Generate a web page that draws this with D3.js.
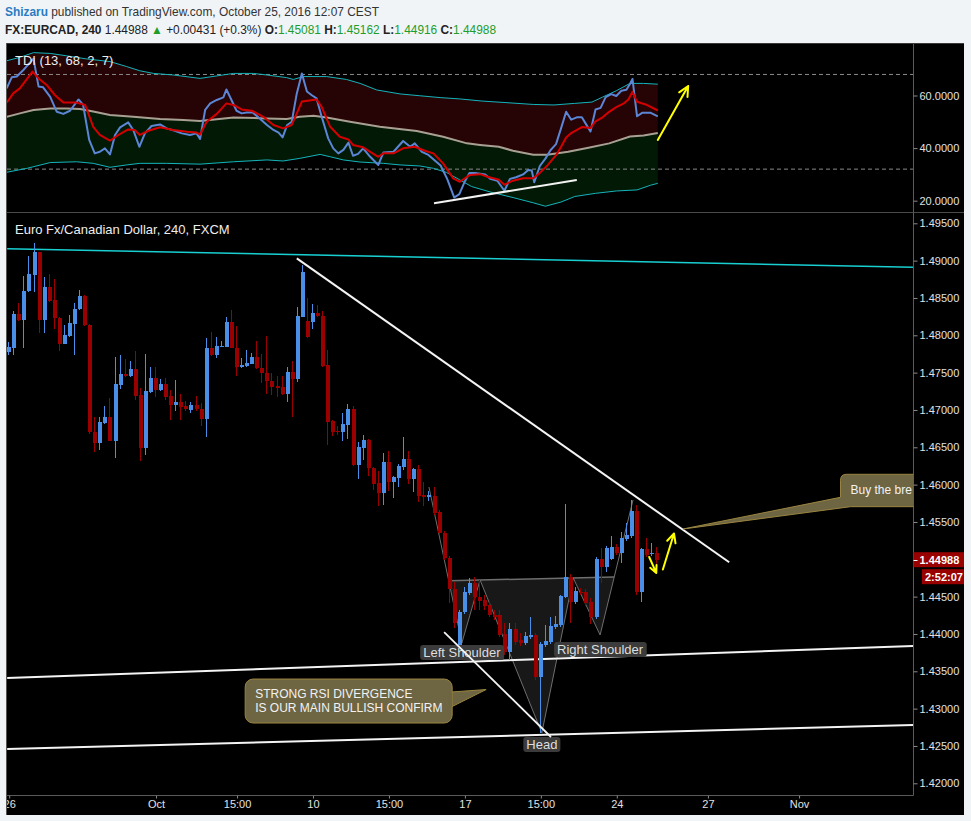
<!DOCTYPE html>
<html><head><meta charset="utf-8">
<script src="https://cdn.jsdelivr.net/npm/d3@7"></script>
<style>
html,body{margin:0;padding:0;background:#f1f4f7;}
svg{display:block;font-family:"Liberation Sans",Arial,sans-serif;}
</style></head><body>
<svg id="c" width="971" height="821"></svg>
<script>
// ---------------- DATA ----------------
const candleOpen = [1.4777,1.4783,1.4829,1.4821,1.4859,1.4881,1.4911,1.4821,1.4865,1.4847,1.4823,1.4789,1.4799,1.4815,1.4835,1.4853,1.4814,1.4670,1.4656,1.4683,1.4690,1.4659,1.4734,1.4748,1.4745,1.4755,1.4720,1.4649,1.4724,1.4743,1.4727,1.4735,1.4719,1.4707,1.4711,1.4705,1.4700,1.4707,1.4701,1.4688,1.4783,1.4774,1.4785,1.4785,1.4818,1.4783,1.4757,1.4759,1.4762,1.4771,1.4756,1.4749,1.4739,1.4732,1.4731,1.4722,1.4751,1.4742,1.4825,1.4819,1.4818,1.4830,1.4826,1.4760,1.4685,1.4672,1.4670,1.4680,1.4701,1.4626,1.4649,1.4660,1.4622,1.4602,1.4589,1.4630,1.4604,1.4609,1.4624,1.4634,1.4608,1.4621,1.4586,1.4583,1.4585,1.4563,1.4535,1.4502,1.4460,1.4385,1.4429,1.4455,1.4468,1.4450,1.4445,1.4439,1.4425,1.4425,1.4400,1.4376,1.4407,1.4392,1.4388,1.4396,1.4399,1.4342,1.4385,1.4389,1.4409,1.4412,1.4450,1.4476,1.4443,1.4456,1.4456,1.4443,1.4423,1.4500,1.4490,1.4500,1.4517,1.4509,1.4527,1.4531,1.4565,1.4456,1.4514,1.4507,1.45081];
const candleHigh = [1.4791,1.4832,1.4843,1.4879,1.4906,1.4924,1.4912,1.4878,1.4882,1.4875,1.4824,1.4814,1.4827,1.4843,1.4861,1.4854,1.4815,1.4690,1.4690,1.4705,1.4716,1.4771,1.4773,1.4768,1.4765,1.4779,1.4729,1.4775,1.4757,1.4757,1.4742,1.4743,1.4727,1.4740,1.4722,1.4712,1.4710,1.4719,1.4709,1.4796,1.4804,1.4798,1.4792,1.4825,1.4834,1.4812,1.4769,1.4780,1.4776,1.4792,1.4775,1.4799,1.4749,1.4745,1.4745,1.4758,1.4765,1.4838,1.4894,1.4850,1.4842,1.4841,1.4832,1.4780,1.4687,1.4678,1.4696,1.4708,1.4705,1.4657,1.4666,1.4661,1.4624,1.4618,1.4642,1.4645,1.4612,1.4628,1.4664,1.4645,1.4622,1.4626,1.4604,1.4591,1.4597,1.4566,1.4538,1.4504,1.4470,1.4432,1.4463,1.4475,1.4476,1.4472,1.4452,1.4443,1.4432,1.4432,1.4415,1.4415,1.4415,1.4401,1.4403,1.4423,1.4401,1.4389,1.4412,1.4423,1.4424,1.4452,1.4574,1.4480,1.4463,1.4462,1.4460,1.4448,1.4503,1.4515,1.4518,1.4531,1.4520,1.4537,1.4549,1.4579,1.4573,1.4515,1.4529,1.4522,1.45162];
const candleLow = [1.4774,1.4773,1.4819,1.4783,1.4858,1.4858,1.4803,1.4803,1.4845,1.4808,1.4779,1.4788,1.4798,1.4773,1.4834,1.4812,1.4668,1.4644,1.4646,1.4681,1.4658,1.4636,1.4728,1.4744,1.4744,1.4713,1.4631,1.4640,1.4723,1.4718,1.4725,1.4713,1.4686,1.4698,1.4686,1.4698,1.4696,1.4698,1.4679,1.4664,1.4772,1.4770,1.4784,1.4784,1.4783,1.4745,1.4756,1.4758,1.4761,1.4755,1.4736,1.4722,1.4720,1.4718,1.4720,1.4711,1.4691,1.4737,1.4824,1.4796,1.4809,1.4824,1.4758,1.4653,1.4665,1.4666,1.4658,1.4661,1.4625,1.4608,1.4633,1.4612,1.4593,1.4571,1.4573,1.4591,1.4582,1.4597,1.4620,1.4601,1.4590,1.4577,1.4571,1.4578,1.4559,1.4533,1.4499,1.4441,1.4408,1.4383,1.4427,1.4452,1.4432,1.4432,1.4432,1.4423,1.4419,1.4396,1.4372,1.4365,1.4385,1.4384,1.4385,1.4393,1.4338,1.4267,1.4383,1.4387,1.4407,1.4409,1.4448,1.4415,1.4440,1.4452,1.4437,1.4413,1.4420,1.4468,1.4483,1.4499,1.4506,1.4495,1.4524,1.4529,1.4452,1.4443,1.4503,1.4505,1.44916];
const candleClose = [1.4785,1.4829,1.4821,1.4859,1.4882,1.4911,1.4821,1.4865,1.4846,1.4823,1.4789,1.4800,1.4817,1.4835,1.4853,1.4814,1.4670,1.4656,1.4684,1.4690,1.4659,1.4735,1.4748,1.4745,1.4755,1.4719,1.4649,1.4726,1.4743,1.4727,1.4735,1.4718,1.4707,1.4711,1.4704,1.4701,1.4707,1.4701,1.4688,1.4783,1.4774,1.4786,1.4786,1.4818,1.4783,1.4757,1.4760,1.4763,1.4771,1.4756,1.4749,1.4739,1.4731,1.4730,1.4721,1.4751,1.4742,1.4826,1.4885,1.4798,1.4830,1.4826,1.4759,1.4684,1.4671,1.4670,1.4681,1.4701,1.4626,1.4650,1.4660,1.4622,1.4601,1.4589,1.4630,1.4604,1.4610,1.4625,1.4634,1.4608,1.4621,1.4585,1.4583,1.4586,1.4562,1.4535,1.4502,1.4460,1.4415,1.4429,1.4456,1.4468,1.4450,1.4444,1.4437,1.4425,1.4423,1.4399,1.4376,1.4407,1.4389,1.4388,1.4397,1.4399,1.4342,1.4387,1.4391,1.4411,1.4413,1.4451,1.4476,1.4443,1.4458,1.4455,1.4441,1.4423,1.4500,1.4490,1.4515,1.4517,1.4509,1.4529,1.4533,1.4565,1.4456,1.4514,1.4506,1.4509,1.44988];

const timeTickIndex = [0,29,45,60,75,90,105,120,138,156];
const timeTickLabels = ["26","Oct","15:00","10","15:00","17","15:00","24","27","Nov"];
const priceTicks = [1.420,1.425,1.430,1.435,1.440,1.445,1.450,1.455,1.460,1.465,1.470,1.475,1.480,1.485,1.490,1.495];
const tdiTicks = [20,40,60];
const tdiLevels = [32,68];

// TDI series: [candle index, value]
const tdiRsi = [[-0.5,62.7],[0.5,66.9],[1.5,67.2],[2.8,69.7],[4.8,74],[5.8,63.4],[6.7,63.1],[8.1,59.5],[9.4,53.8],[10.7,53.0],[12.0,54.2],[13.7,58.5],[14.6,56.4],[15.8,43.1],[16.9,38.0],[17.9,38.6],[18.9,39.9],[19.9,37.6],[20.9,45.0],[21.9,47.9],[23.5,49.8],[24.5,46.9],[25.7,40.5],[26.8,45.6],[28.1,48.4],[29.8,49.0],[31.1,47.5],[32.7,46.6],[34.1,45.6],[35.7,45.0],[37.0,45.6],[37.7,43.5],[38.7,54.5],[39.7,57.0],[41.0,58.3],[42.3,59.3],[42.9,62.3],[43.9,58.3],[44.9,54.2],[45.9,53.2],[46.9,53.5],[48.1,53.5],[49.2,51.7],[50.9,48.8],[52.2,46.9],[53.2,45.9],[54.0,44.1],[54.9,48.8],[55.8,50.0],[56.8,60.8],[57.8,68.4],[58.8,61.5],[59.7,60.2],[60.7,58.9],[61.7,52.0],[63.0,43.7],[64.0,39.9],[65.0,38.0],[66.0,39.3],[67.0,42.1],[67.9,37.1],[68.9,37.8],[69.9,39.9],[71.3,36.7],[72.9,33.6],[73.9,38.3],[75.9,38.6],[77.8,42.7],[79.2,40.5],[80.1,41.8],[81.5,38.6],[82.8,37.4],[85.2,33.4],[86.5,28.3],[87.9,21.2],[88.9,22.5],[89.9,27.0],[90.9,30.5],[92.0,30.5],[94.0,30.0],[95.0,28.3],[96.4,27.6],[97.8,23.8],[98.9,28.3],[100.1,28.9],[101.5,30.0],[102.5,31.7],[103.2,31.5],[103.7,27.0],[104.8,33.2],[105.9,36.0],[106.9,39.2],[108.0,41.5],[109.0,47.6],[110.0,53.8],[111.0,50.8],[112.1,51.7],[113.1,51.7],[113.8,49.5],[114.8,46.3],[115.8,54.7],[116.8,55.3],[117.8,59.4],[118.9,60.5],[119.9,59.8],[120.9,61.8],[121.9,62.2],[122.6,64.4],[123.1,66.3],[124.0,52.1],[125.0,53.4],[126.7,53.4],[128.1,52.1]];
const tdiSignal = [[-0.5,57.3],[0.8,60.8],[2.1,62.7],[4.6,69.1],[5.8,66.5],[7.4,64.0],[9.0,60.2],[10.7,57.3],[13.3,57.3],[15.0,56.4],[16.6,48.1],[17.9,45.0],[19.9,42.8],[21.6,45.0],[23.5,47.1],[24.8,46.9],[25.8,45.0],[27.5,46.6],[29.8,47.9],[32.4,46.9],[35.1,46.2],[37.0,45.9],[37.7,45.2],[39.0,50.0],[41.0,53.0],[42.9,57.0],[44.3,56.4],[45.9,54.7],[47.9,54.2],[50.2,51.9],[52.2,48.8],[54.1,47.5],[55.8,48.8],[56.8,53.2],[57.8,57.7],[60.7,58.5],[61.7,55.7],[63.4,48.1],[65.3,44.3],[67.0,43.3],[67.9,41.2],[69.9,40.3],[72.9,36.7],[73.9,38.0],[75.9,38.0],[77.8,39.9],[80.1,40.5],[82.1,39.0],[83.8,38.0],[85.7,34.2],[87.7,28.5],[89.0,27.2],[91.0,29.8],[93.0,30.1],[94.3,29.2],[96.7,28.0],[97.8,26.1],[99.5,27.6],[101.5,28.5],[103.5,28.5],[104.6,30.2],[106.3,33.4],[108.0,37.3],[109.0,40.5],[110.0,44.0],[111.0,45.7],[113.1,48.0],[114.8,47.6],[115.8,50.2],[117.2,51.7],[118.5,53.8],[119.9,55.6],[121.3,56.9],[122.3,58.5],[123.1,61.4],[124.0,57.6],[125.7,56.6],[128.1,54.3]];
const tdiMid = [[-0.5,51.9],[2.1,53.2],[4.8,54.5],[8.1,55.1],[11.3,55.1],[14.0,54.9],[16.6,53.9],[19.9,52.6],[24.5,51.9],[29.8,51.1],[34.4,50.7],[37.7,50.3],[44.3,51.6],[50.9,51.3],[54.8,51.1],[57.4,51.9],[60.1,52.3],[62.7,51.6],[67.3,50.0],[73.2,48.1],[80.5,46.5],[85.7,44.3],[90.4,41.8],[93.0,41.2],[96.7,40.5],[99.5,39.0],[103.5,37.5],[106.3,37.5],[110.4,38.6],[114.4,40.1],[118.5,41.8],[122.6,44.4],[125.3,44.8],[128.1,45.7]];
const tdiUpper = [[-0.5,73.2],[2.1,74.5],[4.8,76.3],[8.1,76.0],[11.3,75.1],[15.3,73.9],[19.9,72.9],[23.2,71.0],[25.8,69.4],[28.5,68.4],[32.4,67.8],[37.7,66.5],[44.3,68.4],[48.2,68.4],[50.9,67.8],[54.8,66.8],[56.1,66.1],[58.1,67.2],[62.7,67.2],[66.6,66.1],[69.3,64.6],[72.6,62.1],[77.2,60.6],[81.1,59.9],[85.1,59.2],[89.0,58.7],[93.3,57.9],[98.1,57.3],[103.5,56.6],[107.6,56.4],[111.7,57.0],[115.1,57.5],[117.2,59.4],[119.9,61.8],[122.6,64.6],[125.3,64.6],[128.1,64.3]];
const tdiLower = [[-0.5,30.8],[3.5,32.3],[8.1,34.5],[13.3,34.8],[16.6,34.2],[19.9,32.7],[23.2,33.6],[25.8,34.2],[31.1,34.2],[37.7,33.9],[44.3,34.8],[50.9,35.5],[54.1,35.1],[57.4,36.1],[61.4,37.6],[63.4,36.7],[66.0,35.5],[69.3,34.7],[73.9,34.2],[77.2,33.6],[81.1,33.2],[83.8,32.3],[86.4,30.7],[89.0,27.9],[91.3,25.4],[95.4,23.1],[99.5,21.2],[103.5,19.2],[105.9,17.9],[109.0,19.5],[111.7,21.6],[115.8,22.8],[119.9,23.7],[124.0,24.1],[126.7,25.9],[128.1,26.6]];

// Drawings (endpoints in [candle index, price])
const resistanceLine = [[-0.4,1.49160],[178.5,1.48911]];
const downTrendLine = [[56.8,1.49031],[142.2,1.44960]];
const upperSupport = [[-0.4,1.43410],[178.5,1.43839]];
const lowerSupport = [[-0.4,1.42459],[178.5,1.42781]];
const shoulderHeadLine = [[85.9,1.44026],[107.0,1.42620]];
const hsPoints = [[82.9,1.45968],[89.4,1.43879],[93.0,1.44723],[105.2,1.42674],[111.4,1.44750],[116.7,1.43986],[123.2,1.45794]];
const arrowDown = [[126.4,1.45031],[127.8,1.44817]];
const arrowUp = [[129.1,1.44863],[131.3,1.45346]];
const tdiArrow = [[128.1,43.1],[134.1,63.6]];
const tdiDivergence = [[83.9,19.0],[112.1,27.9]];
const noteRsiTip = [94.2,1.43256];
const noteBuyTip = [133.1,1.45406];
const lastPrice = 1.44988;

// ---------------- LAYOUT ----------------
const svg = d3.select("#c");
const plotL = 7, plotR = 913.5, tdiT = 44, tdiB = 212, mainT = 213, mainB = 795.5;
const x = d3.scaleLinear().domain([0,128]).range([9.2,657.3]);
const y = d3.scaleLinear().domain([1.42,1.495]).range([783.3,223.3]);
const yT = d3.scaleLinear().domain([20,60]).range([200.7,95.5]);

const defs = svg.append("defs");
defs.append("clipPath").attr("id","clipT").append("rect").attr("x",plotL).attr("y",tdiT).attr("width",plotR-plotL).attr("height",tdiB-tdiT);
defs.append("clipPath").attr("id","clipM").append("rect").attr("x",plotL).attr("y",mainT).attr("width",plotR-plotL).attr("height",mainB-mainT);
defs.append("clipPath").attr("id","clipX").append("rect").attr("x",plotL).attr("y",mainB).attr("width",plotR-plotL).attr("height",20);

// background
svg.append("rect").attr("width",971).attr("height",821).attr("fill","#f1f4f7");
svg.append("rect").attr("x",6).attr("y",43).attr("width",958).attr("height",772).attr("fill","#000");
svg.append("line").attr("x1",6).attr("x2",964).attr("y1",43.5).attr("y2",43.5).attr("stroke","#3a3a3a");
svg.append("line").attr("x1",6.5).attr("x2",6.5).attr("y1",43).attr("y2",815).attr("stroke","#555");

// header
const h1 = svg.append("text").attr("x",5).attr("y",16).attr("font-size",11.9).attr("fill","#333");
h1.append("tspan").attr("fill","#2a7cc2").attr("font-weight","bold").text("Shizaru");
h1.append("tspan").text(" published on TradingView.com, October 25, 2016 12:07 CEST");
const h2 = svg.append("text").attr("x",5).attr("y",34).attr("font-size",11.9).attr("fill","#222");
const green = "#1f9d2b";
h2.append("tspan").attr("font-weight","bold").text("FX:EURCAD, 240");
h2.append("tspan").text(" 1.44988 ");
h2.append("tspan").attr("fill",green).text("\u25B2");
h2.append("tspan").text(" +0.00431 (+0.3%) ");
[["O:","1.45081"],["H:","1.45162"],["L:","1.44916"],["C:","1.44988"]].forEach((p,k)=>{
  h2.append("tspan").attr("font-weight","bold").text((k?" ":"")+p[0]);
  h2.append("tspan").attr("fill",green).text(p[1]);
});

// ---------------- TDI PANEL ----------------
const gT = svg.append("g").attr("clip-path","url(#clipT)");
const lineT = d3.line().x(d=>x(d[0])).y(d=>yT(d[1]));
gT.append("path").attr("d", lineT([...tdiUpper, ...tdiMid.slice().reverse()])+"Z").attr("fill","#260304");
gT.append("path").attr("d", lineT([...tdiMid, ...tdiLower.slice().reverse()])+"Z").attr("fill","#021a05");
tdiLevels.forEach(v=>{
  gT.append("line").attr("x1",plotL).attr("x2",plotR).attr("y1",yT(v)).attr("y2",yT(v))
    .attr("stroke","#8a8a8a").attr("stroke-dasharray","4,3").attr("stroke-width",1);
});
gT.append("path").attr("d",lineT(tdiUpper)).attr("fill","none").attr("stroke","#14b4bc").attr("stroke-width",1);
gT.append("path").attr("d",lineT(tdiLower)).attr("fill","none").attr("stroke","#14b4bc").attr("stroke-width",1);
gT.append("path").attr("d",lineT(tdiMid)).attr("fill","none").attr("stroke","#a8a092").attr("stroke-width",2);
gT.append("path").attr("d",lineT(tdiRsi)).attr("fill","none").attr("stroke","#5b86d6").attr("stroke-width",2).attr("stroke-linejoin","round");
gT.append("path").attr("d",lineT(tdiSignal)).attr("fill","none").attr("stroke","#d40000").attr("stroke-width",2).attr("stroke-linejoin","round");
gT.append("path").attr("d",lineT(tdiDivergence)).attr("stroke","#f2f2f2").attr("stroke-width",2);

function arrow(g, pts, sx, sy, color, w, head){
  const x1=sx(pts[0][0]), y1=sy(pts[0][1]), x2=sx(pts[1][0]), y2=sy(pts[1][1]);
  const a = Math.atan2(y2-y1,x2-x1), L=head;
  const p1=[x2-L*Math.cos(a-0.45), y2-L*Math.sin(a-0.45)], p2=[x2-L*Math.cos(a+0.45), y2-L*Math.sin(a+0.45)];
  g.append("path").attr("d",`M${x1},${y1}L${x2},${y2}M${p1}L${x2},${y2}L${p2}`)
   .attr("fill","none").attr("stroke",color).attr("stroke-width",w).attr("stroke-linecap","round").attr("stroke-linejoin","round");
}
arrow(gT, tdiArrow, x, yT, "#ffff00", 2, 11);
gT.append("text").attr("x",15).attr("y",65).attr("font-size",13).attr("fill","#eeeeee").text("TDI (13, 68, 2, 7)");

// separators
svg.append("line").attr("x1",7).attr("x2",964).attr("y1",212.5).attr("y2",212.5).attr("stroke","#4a4a4a");
svg.append("line").attr("x1",913.5).attr("x2",913.5).attr("y1",44).attr("y2",795.5).attr("stroke","#5a5a5a");
svg.append("line").attr("x1",7).attr("x2",913.5).attr("y1",795.5).attr("y2",795.5).attr("stroke","#5a5a5a");

// ---------------- MAIN PANEL ----------------
const gM = svg.append("g").attr("clip-path","url(#clipM)");
const lineM = d3.line().x(d=>x(d[0])).y(d=>y(d[1]));

// head & shoulders drawing
const hp = hsPoints.map(d=>[x(d[0]),y(d[1])]);
function intersect(a,b,c,d){
  const den=(a[0]-b[0])*(c[1]-d[1])-(a[1]-b[1])*(c[0]-d[0]);
  const t=((a[0]-c[0])*(c[1]-d[1])-(a[1]-c[1])*(c[0]-d[0]))/den;
  return [a[0]+t*(b[0]-a[0]), a[1]+t*(b[1]-a[1])];
}
const nL = intersect(hp[0],hp[1],hp[2],hp[4]);
const nR = intersect(hp[5],hp[6],hp[2],hp[4]);
gM.append("path").attr("d","M"+[nL,hp[1],hp[2],hp[3],hp[4],hp[5],nR].map(p=>p.join(",")).join("L")+"Z")
  .attr("fill","#181818");
gM.append("path").attr("d","M"+hp.map(p=>p.join(",")).join("L")).attr("fill","none").attr("stroke","#6e6e6e").attr("stroke-width",1);
gM.append("path").attr("d",`M${nL}L${nR}`).attr("fill","none").attr("stroke","#6e6e6e").attr("stroke-width",1.5);

// straight lines
gM.append("path").attr("d",lineM(resistanceLine)).attr("stroke","#18cfd2").attr("stroke-width",1.6).attr("fill","none");
[downTrendLine, upperSupport, lowerSupport].forEach(l=>{
  gM.append("path").attr("d",lineM(l)).attr("stroke","#f4f4f4").attr("stroke-width",2).attr("fill","none");
});

// candles
const candles = candleOpen.map((o,i)=>({i,o,h:candleHigh[i],l:candleLow[i],c:candleClose[i]}));
const upC = "#4a8fe7", dnC = "#9a0000";
const gC = gM.append("g").attr("shape-rendering","crispEdges");
gC.selectAll("rect.w").data(candles).join("rect").attr("class","w")
  .attr("x",d=>Math.round(x(d.i))-1).attr("width",1)
  .attr("y",d=>Math.round(y(d.h))).attr("height",d=>Math.max(1,Math.round(y(d.l))-Math.round(y(d.h))))
  .attr("fill",d=>d.c>=d.o?upC:dnC);
gC.selectAll("rect.b").data(candles).join("rect").attr("class","b")
  .attr("x",d=>Math.round(x(d.i))-2).attr("width",4)
  .attr("y",d=>Math.round(y(Math.max(d.o,d.c))))
  .attr("height",d=>Math.max(1,Math.round(y(Math.min(d.o,d.c)))-Math.round(y(Math.max(d.o,d.c)))))
  .attr("fill",d=>d.c>=d.o?upC:dnC);

// yellow arrows
arrow(gM, arrowDown, x, y, "#ffff00", 2, 8);
arrow(gM, arrowUp, x, y, "#ffff00", 2, 10);

// pattern labels
function tag(label, pt, dy){
  const px=x(pt[0]), py=y(pt[1]);
  const g = gM.append("g");
  const r = g.append("rect");
  const t = g.append("text").attr("x",px).attr("y",py+dy+12).attr("text-anchor","middle")
    .attr("font-size",13).attr("fill","#dedede").text(label);
  const bb = t.node().getBBox();
  r.attr("x",bb.x-3).attr("y",py+dy).attr("width",bb.width+6).attr("height",15).attr("rx",3).attr("fill","#3b3b3b");
}
tag("Left Shoulder", hsPoints[1], 2);
tag("Head", hsPoints[3], 4);
tag("Right Shoulder", hsPoints[5], 7);
gM.append("path").attr("d",lineM(shoulderHeadLine)).attr("stroke","#f4f4f4").attr("stroke-width",1.8).attr("fill","none");

// callout: RSI divergence
{
  const tx=x(noteRsiTip[0]), ty=y(noteRsiTip[1]);
  const bx=tx-241, by=ty-10.5, bw=207, bh=44;
  const g=gM.append("g");
  g.append("path").attr("d",`M${bx+bw-1},${by+13}L${tx},${ty}L${bx+bw-1},${by+28}Z`).attr("fill","#6e6542").attr("stroke","#9a8540").attr("stroke-width",1);
  g.append("rect").attr("x",bx).attr("y",by).attr("width",bw).attr("height",bh).attr("rx",8).attr("fill","#6e6542").attr("stroke","#9a8540").attr("stroke-width",1);
  g.append("rect").attr("x",bx+bw-3).attr("y",by+13.5).attr("width",3).attr("height",14).attr("fill","#6e6542");
  const t = g.append("text").attr("font-size",12).attr("fill","#f2f2f2");
  t.append("tspan").attr("x",bx+10).attr("y",by+19).text("STRONG RSI DIVERGENCE");
  t.append("tspan").attr("x",bx+10).attr("y",by+32.5).text("IS OUR MAIN BULLISH CONFIRM");
}
// callout: buy the breakout (cut by the price scale)
{
  const tx=x(noteBuyTip[0]), ty=y(noteBuyTip[1]);
  const bx=tx+157.4, by=ty-54.7, bh=32.4;
  const g=gM.append("g");
  g.append("path").attr("d",`M${tx},${ty}L${bx},${by+23}L${bx},${by+6}Q${bx},${by} ${bx+6},${by}L${bx+200},${by}L${bx+200},${by+bh}L${bx+10},${by+bh}Z`)
   .attr("fill","#6e6542").attr("stroke","#9a8540").attr("stroke-width",1);
  g.append("text").attr("x",bx+10).attr("y",by+20).attr("font-size",12).attr("fill","#f2f2f2").text("Buy the bre");
}

gM.append("text").attr("x",15).attr("y",234).attr("font-size",13).attr("fill","#eeeeee").text("Euro Fx/Canadian Dollar, 240, FXCM");

// ---------------- AXES ----------------
function styleAxis(g){
  g.select(".domain").remove();
  g.selectAll(".tick line").attr("stroke","#8a8a8a");
  g.selectAll(".tick text").attr("fill","#e2e2e2").attr("font-size",11).attr("font-family","Liberation Sans, Arial, sans-serif");
}
const ay = svg.append("g").attr("transform","translate(913.5,0)")
  .call(d3.axisRight(y).tickValues(priceTicks).tickFormat(d3.format(".5f")).tickSize(4).tickPadding(2));
styleAxis(ay);
const ayT = svg.append("g").attr("transform","translate(913.5,0)")
  .call(d3.axisRight(yT).tickValues(tdiTicks).tickFormat(d3.format(".4f")).tickSize(4).tickPadding(2));
styleAxis(ayT);
const axWrap = svg.append("g").attr("clip-path","url(#clipX)");
const ax = axWrap.append("g").attr("transform",`translate(0,${mainB})`)
  .call(d3.axisBottom(x).tickValues(timeTickIndex).tickFormat((d,i)=>timeTickLabels[i]).tickSize(3).tickPadding(2));
styleAxis(ax);

// last price labels
{
  const py = y(lastPrice);
  svg.append("rect").attr("x",913.5).attr("y",py-8).attr("width",50.5).attr("height",15).attr("fill","#990000");
  svg.append("line").attr("x1",913.5).attr("x2",917.5).attr("y1",Math.round(py)+0.5).attr("y2",Math.round(py)+0.5).attr("stroke","#fff");
  svg.append("text").attr("x",919.5).attr("y",py+4).attr("font-size",11).attr("font-weight","bold").attr("fill","#fff").text(d3.format(".5f")(lastPrice));
  svg.append("rect").attr("x",922).attr("y",py+9).attr("width",42).attr("height",15).attr("fill","#990000");
  svg.append("text").attr("x",925).attr("y",py+20.5).attr("font-size",11).attr("font-weight","bold").attr("fill","#fff").text("2:52:07");
}
</script>
</body></html>
